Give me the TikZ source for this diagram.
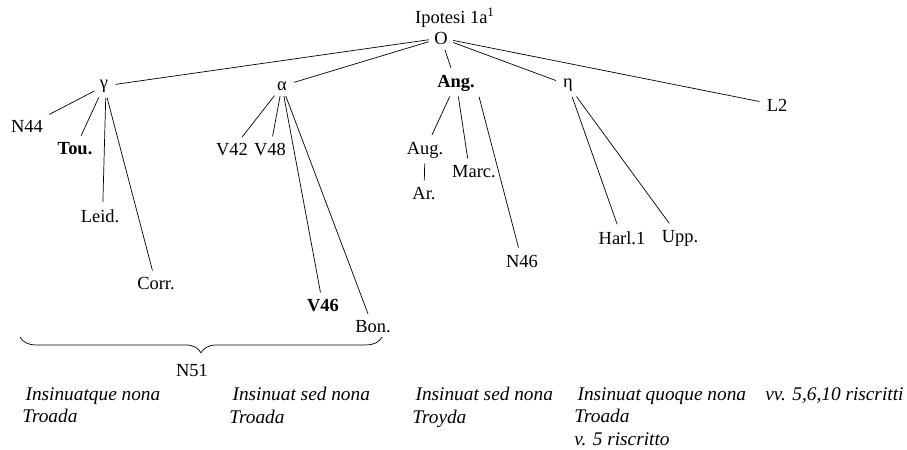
\documentclass[tikz,border=0pt]{standalone}
\usepackage{fontspec}
\setmainfont{Liberation Serif}
\usetikzlibrary{decorations.pathreplacing}

\begin{document}
\begin{tikzpicture}[x=0.02cm,y=-0.02cm,
    font=\fontsize{10.5}{13}\selectfont,
    ms/.style={inner sep=2pt},
    note/.style={font=\fontsize{11}{13}\selectfont\itshape,anchor=north west,align=left,inner sep=0pt},
    branch/.style={shorten <=1pt,shorten >=2pt}]
  \useasboundingbox (0,0) rectangle (907,450);

  % archetype and families
  \node[ms] (ipo) at (455,18) {Ipotesi 1a\textsuperscript{1}};
  \node[ms] (O) at (441,38) {O};
  \node[ms] (gam) at (104,86) {γ};
  \node[ms] (alp) at (282,86) {α};
  \node[ms] (ang) at (456,83) {\textbf{Ang.}};
  \node[ms] (eta) at (568,85) {η};
  \node[ms] (L2) at (777,105) {L2};

  % witnesses
  \node[ms] (N44) at (27,126) {N44};
  \node[ms] (tou) at (75,149) {\textbf{Tou.}};
  \node[ms] (leid) at (100,216) {Leid.};
  \node[ms] (corr) at (156,284) {Corr.};
  \node[ms] (V42) at (232,150) {V42};
  \node[ms] (V48) at (270,150) {V48};
  \node[ms] (V46) at (323,306) {\textbf{V46}};
  \node[ms] (bon) at (373,327) {Bon.};
  \node[ms] (aug) at (425,150) {Aug.};
  \node[ms] (ar) at (424,194) {Ar.};
  \node[ms] (marc) at (474,172) {Marc.};
  \node[ms] (N46) at (522,261) {N46};
  \node[ms] (harl) at (622,238) {Harl.1};
  \node[ms] (upp) at (680,238) {Upp.};

  \foreach \a/\b in {O/gam,O/alp,O/ang,O/eta,O/L2,
                     gam/N44,gam/tou,gam.-80/leid.75,gam/corr,
                     alp/V42,alp/V48,alp/V46,alp/bon,
                     ang/aug,ang.-80/marc.120,ang.south east/N46,aug/ar,
                     eta/harl,eta/upp}
    \draw[branch] (\a) -- (\b);

  % brace over the first two families
  \coordinate (bl) at (20,337);
  \coordinate (br) at (382,337);
  \draw[decorate,decoration={brace,amplitude=9pt}] (br) -- (bl);
  \node[ms] (N51) at (192,370) {N51};

  % readings
  \node[note] (r1) at (22,387) {\,Insinuatque nona\\Troada};
  \node[note] (r2) at (229,387) {\,Insinuat sed nona\\Troada};
  \node[note] (r3) at (412,387) {\,Insinuat sed nona\\Troyda};
  \node[note] (r4) at (574,387) {\,Insinuat quoque nona\\Troada\\v. 5 riscritto};
  \node[note] (r5) at (765,387) {vv. 5,6,10 riscritti};
\end{tikzpicture}
\end{document}
